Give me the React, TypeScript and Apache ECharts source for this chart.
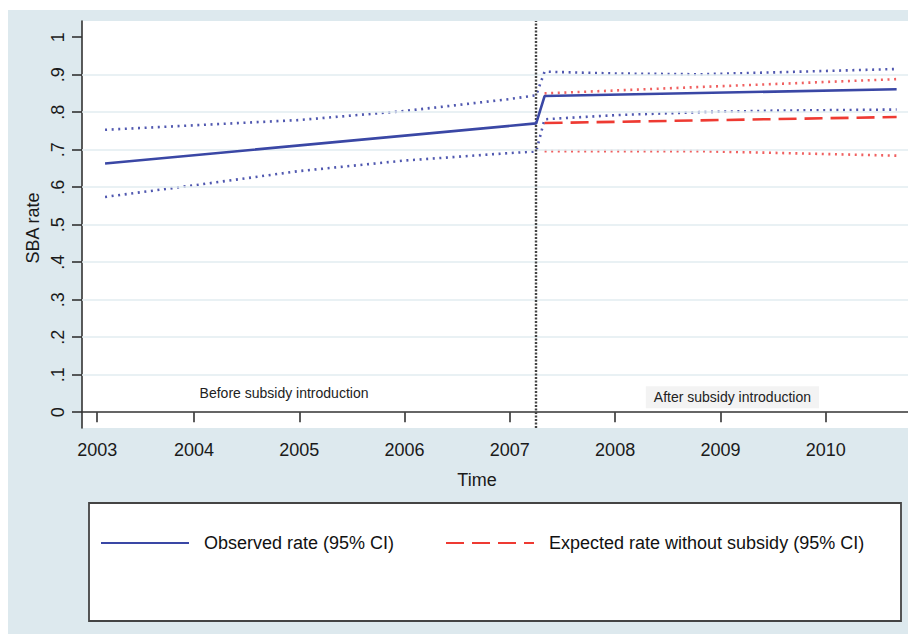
import React, { useEffect, useRef } from "react";
import * as echarts from "echarts";

// ---- Data ----
const obsTime = [2003.155, 2007.25, 2007.33, 2010.674];
const obsRate = [0.663, 0.77, 0.843, 0.861];

const obsCiTime = [2003.155, 2004, 2005, 2006, 2007, 2007.25, 2007.33, 2008, 2008.8, 2009.5, 2010.674];
const obsUpper = [0.753, 0.765, 0.779, 0.803, 0.835, 0.845, 0.908, 0.903, 0.901, 0.906, 0.915];
const obsLower = [0.574, 0.605, 0.643, 0.671, 0.691, 0.695, 0.781, 0.792, 0.8, 0.804, 0.807];

const expTime = [2007.33, 2010.674];
const expRate = [0.771, 0.787];
const expCiTime = [2007.33, 2008.8, 2010.674];
const expUpper = [0.85, 0.867, 0.888];
const expLower = [0.696, 0.696, 0.684];

const interventionTime = 2007.25;

const xTickValues = [2003.08, 2004, 2005, 2006, 2007, 2008, 2009, 2010];
const yTickValues = [0, 0.1, 0.2, 0.3, 0.4, 0.5, 0.6, 0.7, 0.8, 0.9, 1];
const gridValues = [0.1, 0.2, 0.3, 0.4, 0.5, 0.6, 0.7, 0.8, 0.9];

const annotationTexts = ["Before subsidy introduction", "After subsidy introduction"];
const annotationX = [2004.855, 2009.114];
const annotationY = [0.051, 0.04];

const seriesNames = ["Observed rate (95% CI)", "Expected rate without subsidy (95% CI)"];

const zip = (xs: number[], ys: number[]) => xs.map((x, i) => [x, ys[i]]);

const FONT = "'Liberation Sans', Arial, Helvetica, sans-serif";
const BLUE = "#3a47a5";
const BLUE_CI = "#5058b0";
const RED = "#ee3a32";
const RED_CI = "#f06060";
const AXIS = "#333333";

export default function App() {
  const ref = useRef<HTMLDivElement>(null);
  useEffect(() => {
    document.body.style.margin = "0";
    const chart = echarts.init(ref.current!, null, { renderer: "svg" });
    const dotted = (color: string) => ({ color, width: 2.6, type: [2, 4.6] as any });
    const legendBase = {
      top: 524,
      padding: 0,
      itemWidth: 88,
      itemHeight: 20,
      itemStyle: { opacity: 0 },
      textStyle: { fontSize: 18, color: "#111", fontFamily: FONT, padding: [0, 0, 0, 10] },
    };
    const option: any = {
      animation: false,
      backgroundColor: "#dde9ee",
      textStyle: { fontFamily: FONT },
      grid: {
        left: 74,
        top: 11,
        right: 0,
        bottom: 206,
        show: true,
        backgroundColor: "#ffffff",
        borderWidth: 0,
        containLabel: false,
        outerBoundsMode: "none",
      },
      xAxis: {
        type: "value",
        min: 2002.936,
        max: 2010.782,
        axisLine: { show: true, lineStyle: { color: AXIS, width: 1.6 } },
        axisTick: { show: true, length: 10, lineStyle: { color: AXIS, width: 1.6 }, customValues: xTickValues },
        axisLabel: {
          customValues: xTickValues,
          margin: 13,
          fontSize: 18,
          color: "#1a1a1a",
          fontFamily: FONT,
          formatter: (v: number) => String(Math.round(v)),
        },
        splitLine: { show: false },
      },
      yAxis: {
        type: "value",
        min: -0.042,
        max: 1.043,
        axisLine: { show: true, lineStyle: { color: AXIS, width: 1.6 } },
        axisTick: { show: true, length: 10, lineStyle: { color: AXIS, width: 1.6 }, customValues: yTickValues },
        axisLabel: {
          customValues: yTickValues,
          rotate: 90,
          margin: 15,
          fontSize: 18,
          color: "#1a1a1a",
          fontFamily: FONT,
          formatter: (v: number) => {
            if (Math.abs(v) < 1e-9) return "0";
            if (Math.abs(v - 1) < 1e-9) return "1";
            return "." + Math.round(v * 10);
          },
        },
        splitLine: { show: false },
      },
      legend: [
        { ...legendBase, data: [seriesNames[0]], left: 92 },
        { ...legendBase, data: [seriesNames[1]], left: 437 },
      ],
      graphic: [
        {
          type: "rect",
          z: 1,
          shape: { x: 81, y: 493, width: 812, height: 118 },
          style: { fill: "#ffffff", stroke: "#444", lineWidth: 1.8 },
        },
        {
          type: "text",
          x: 469,
          y: 470,
          style: { text: "Time", fontSize: 18, fill: "#1a1a1a", fontFamily: FONT, align: "center", verticalAlign: "middle" },
        },
        {
          type: "text",
          x: 25,
          y: 218,
          rotation: Math.PI / 2,
          style: { text: "SBA rate", fontSize: 18, fill: "#1a1a1a", fontFamily: FONT, align: "center", verticalAlign: "middle" },
        },
      ],
      series: [
        {
          name: "gridlines",
          type: "line",
          data: [],
          z: 1,
          silent: true,
          markLine: {
            silent: true,
            symbol: "none",
            label: { show: false },
            lineStyle: { color: "#e2edf0", width: 1.6, type: "solid" },
            data: gridValues.map((v) => ({ yAxis: v })),
          },
        },
        {
          name: "upperObs",
          type: "line",
          data: zip(obsCiTime, obsUpper),
          symbol: "none",
          z: 3,
          lineStyle: dotted(BLUE_CI),
        },
        {
          name: "lowerObs",
          type: "line",
          data: zip(obsCiTime, obsLower),
          symbol: "none",
          z: 3,
          lineStyle: dotted(BLUE_CI),
        },
        {
          name: "upperExp",
          type: "line",
          data: zip(expCiTime, expUpper),
          symbol: "none",
          z: 3,
          lineStyle: dotted(RED_CI),
        },
        {
          name: "lowerExp",
          type: "line",
          data: zip(expCiTime, expLower),
          symbol: "none",
          z: 3,
          lineStyle: dotted(RED_CI),
        },
        {
          name: seriesNames[1],
          type: "line",
          data: zip(expTime, expRate),
          symbol: "none",
          z: 4,
          itemStyle: { color: RED },
          lineStyle: { color: RED, width: 2.6, type: [18, 8] },
        },
        {
          name: seriesNames[0],
          type: "line",
          data: zip(obsTime, obsRate),
          symbol: "none",
          z: 5,
          itemStyle: { color: BLUE },
          lineStyle: { color: BLUE, width: 2.6, type: "solid" },
          markLine: {
            silent: true,
            symbol: "none",
            label: { show: false },
            lineStyle: { color: "#444", width: 2.4, type: [2, 1.5] },
            data: [{ xAxis: interventionTime }],
          },
          markPoint: {
            silent: true,
            symbol: "rect",
            symbolSize: 1,
            itemStyle: { color: "rgba(0,0,0,0)" },
            data: annotationTexts.map((t, i) => ({
              coord: [annotationX[i], annotationY[i]],
              label: {
                show: true,
                position: "inside",
                formatter: t,
                fontSize: 14,
                color: "#222",
                fontFamily: FONT,
                backgroundColor: i === 1 ? "#f3f3f3" : "rgba(0,0,0,0)",
                padding: [4, 8],
              },
            })),
          },
        },
      ],
    };
    chart.setOption(option);
    return () => chart.dispose();
  }, []);
  return (
    <div style={{ position: "absolute", left: 0, top: 0, width: 908, height: 634, background: "#ffffff" }}>
      <div ref={ref} style={{ position: "absolute", left: 8, top: 10, width: 900, height: 624 }} />
    </div>
  );
}
